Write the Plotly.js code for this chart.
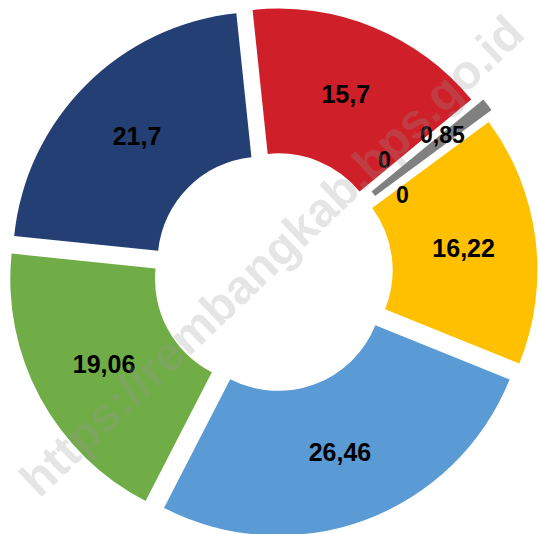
<!DOCTYPE html>
<html>
<head>
<meta charset="utf-8">
<script src="https://cdn.plot.ly/plotly-3.0.1.min.js"></script>
<style>html,body{margin:0;padding:0;background:#fff;overflow:hidden;}#chart{width:560px;height:560px;}</style>
</head>
<body>
<div id="chart"></div>
<script>
// Data
const categories = ["A", "B", "C", "D", "E", "F", "G", "H"];
const values = [15.7, 0, 0.85, 0, 16.22, 26.46, 19.06, 21.7];
const valueLabels = ["15,7", "0", "0,85", "0", "16,22", "26,46", "19,06", "21,7"];
const colors = ["#CF1F28", "#808080", "#808080", "#A5A5A5", "#FFC000", "#5B9BD5", "#70AD47", "#233F74"];

const rotation = -6;
const W = 560, H = 560;          // plot is slightly larger than the 539x534 view
const CX = 273, CY = 272;        // pie centre in pixels
const BOX = 544;                 // pie box size in pixels

// small slices get their labels as annotations placed from the data angles
const smallIdx = [1, 2, 3];
const smallOffsetsDeg = { 1: -5.5, 2: -1, 3: 5.8 };
const smallRadius = { 1: 158, 2: 218, 3: 151 };

const labelFont = { family: "Liberation Sans, Arial, sans-serif", size: 25, color: "#000", weight: 700 };

const total = values.reduce((a, b) => a + b, 0);
let cum = 0;
const annotations = [];
values.forEach((v, i) => {
  const start = rotation + cum / total * 360;
  const mid = start + v / total * 180;
  cum += v;
  if (smallIdx.includes(i)) {
    const a = (mid + smallOffsetsDeg[i]) * Math.PI / 180;
    const r = smallRadius[i];
    annotations.push({
      xref: "paper", yref: "paper",
      x: (CX + r * Math.sin(a)) / W,
      y: 1 - (CY - r * Math.cos(a)) / H,
      xanchor: "center", yanchor: "middle",
      text: valueLabels[i], showarrow: false,
      font: Object.assign({}, labelFont, { size: 23 })
    });
  }
});

// watermark
annotations.push({
  xref: "paper", yref: "paper", x: 272 / W, y: 1 - 256 / H,
  xanchor: "center", yanchor: "middle",
  text: "https://rembangkab.bps.go.id", showarrow: false, textangle: -43.5,
  font: { family: "Liberation Sans, Arial, sans-serif", size: 48, color: "rgba(150,150,150,0.25)", weight: 700 }
});

const textpos = values.map((v, i) => smallIdx.includes(i) ? "none" : "inside");
const pulls = values.map((v, i) => i === 2 ? 0.09 : 0.06);

const trace = {
  type: "pie",
  labels: categories,
  values: values,
  text: valueLabels,
  textinfo: "text",
  textposition: textpos,
  insidetextorientation: "horizontal",
  textfont: labelFont,
  marker: { colors: colors, line: { width: 0 } },
  hole: 0.42,
  pull: pulls,
  sort: false,
  direction: "clockwise",
  rotation: rotation,
  hoverinfo: "none",
  domain: { x: [(CX - BOX / 2) / W, (CX + BOX / 2) / W], y: [1 - (CY + BOX / 2) / H, 1 - (CY - BOX / 2) / H] }
};

Plotly.newPlot("chart", [trace], {
  width: W, height: H,
  margin: { l: 0, r: 0, t: 0, b: 0 },
  showlegend: false,
  paper_bgcolor: "#fff",
  annotations: annotations
}, { displayModeBar: false, staticPlot: true });
</script>
</body>
</html>
